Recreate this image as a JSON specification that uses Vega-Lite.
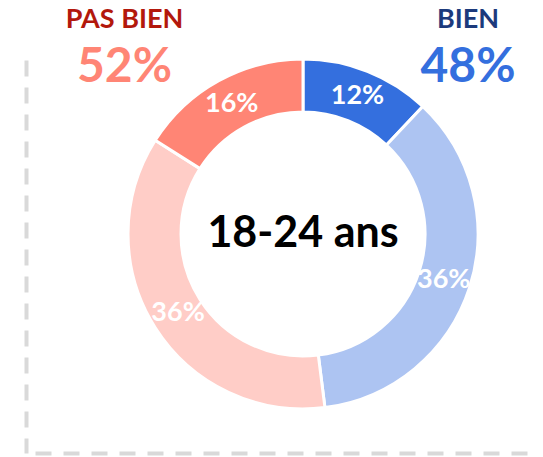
{
  "$schema": "https://vega.github.io/schema/vega-lite/v6.json",
  "width": 501,
  "height": 393,
  "autosize": {"type": "none"},
  "padding": {"left": 26, "top": 60, "right": 16, "bottom": 4},
  "background": "white",
  "config": {"view": {"stroke": null}},
  "resolve": {
    "scale": {"x": "independent", "y": "independent", "color": "independent"},
    "axis": {"x": "independent", "y": "independent"}
  },
  "layer": [
    {
      "data": {
        "values": [
          {"groupe": "18-24 ans", "reponse": "Très bien", "part": 0.12, "ordre": 1},
          {"groupe": "18-24 ans", "reponse": "Plutôt bien", "part": 0.36, "ordre": 2},
          {"groupe": "18-24 ans", "reponse": "Plutôt pas bien", "part": 0.36, "ordre": 3},
          {"groupe": "18-24 ans", "reponse": "Pas bien du tout", "part": 0.16, "ordre": 4}
        ]
      },
      "encoding": {
        "x": {
          "field": "groupe", "type": "nominal",
          "scale": {"type": "point", "align": 0.5529},
          "axis": {"labels": false, "ticks": false, "title": null, "grid": false,
                   "domainColor": "#D9D9D9", "domainWidth": 4, "domainDash": [16, 12], "domainDashOffset": 19}
        },
        "y": {
          "field": "groupe", "type": "nominal",
          "scale": {"type": "point", "align": 0.4427},
          "axis": {"labels": false, "ticks": false, "title": null, "grid": false,
                   "domainColor": "#D9D9D9", "domainWidth": 4, "domainDash": [16, 11]}
        }
      },
      "layer": [
        {
          "mark": {"type": "arc", "innerRadius": 122, "outerRadius": 175, "stroke": "white", "strokeWidth": 3},
          "encoding": {
            "theta": {"field": "part", "type": "quantitative", "stack": true},
            "order": {"field": "ordre", "type": "quantitative"},
            "color": {
              "field": "reponse", "type": "nominal", "legend": null,
              "scale": {
                "domain": ["Très bien", "Plutôt bien", "Plutôt pas bien", "Pas bien du tout"],
                "range": ["#346FDE", "#ADC4F2", "#FFCDC7", "#FF8575"]
              }
            }
          }
        },
        {
          "mark": {"type": "text", "radius": 148, "font": "Lato", "fontWeight": "bold", "fontSize": 27, "fill": "white", "baseline": "middle"},
          "encoding": {
            "theta": {"field": "part", "type": "quantitative", "stack": true},
            "order": {"field": "ordre", "type": "quantitative"},
            "text": {"field": "part", "type": "quantitative", "format": ".0%"}
          }
        },
        {
          "data": {"values": [{"groupe": "18-24 ans"}]},
          "mark": {"type": "text", "font": "Lato", "fontWeight": "bold", "fontSize": 43, "fill": "#000000", "baseline": "middle"},
          "encoding": {
            "text": {"field": "groupe", "type": "nominal"}
          }
        }
      ]
    },
    {
      "data": {
        "values": [
          {"cote": "PAS BIEN", "total": 0.52},
          {"cote": "BIEN", "total": 0.48}
        ]
      },
      "encoding": {
        "x": {
          "field": "cote", "type": "nominal",
          "scale": {"type": "point", "domain": ["PAS BIEN", "BIEN"], "padding": 0.2293, "align": 0.6254},
          "axis": null
        }
      },
      "resolve": {"scale": {"color": "independent"}},
      "layer": [
        {
          "mark": {"type": "text", "font": "Lato", "fontWeight": "bold", "fontSize": 27, "baseline": "alphabetic"},
          "encoding": {
            "y": {"datum": "titre", "type": "nominal", "scale": {"type": "point", "domain": ["titre", "total"], "range": [-32, 22], "padding": 0}, "axis": null},
            "text": {"field": "cote", "type": "nominal"},
            "color": {"field": "cote", "type": "nominal", "legend": null,
                      "scale": {"domain": ["PAS BIEN", "BIEN"], "range": ["#B3180C", "#1C3A7C"]}}
          }
        },
        {
          "mark": {"type": "text", "font": "Lato", "fontWeight": "bold", "fontSize": 48, "baseline": "alphabetic"},
          "encoding": {
            "y": {"datum": "total", "type": "nominal", "scale": {"type": "point", "domain": ["titre", "total"], "range": [-32, 22], "padding": 0}, "axis": null},
            "text": {"field": "total", "type": "quantitative", "format": ".0%"},
            "color": {"field": "cote", "type": "nominal", "legend": null,
                      "scale": {"domain": ["PAS BIEN", "BIEN"], "range": ["#FF8575", "#346FDE"]}}
          }
        }
      ]
    }
  ]
}
